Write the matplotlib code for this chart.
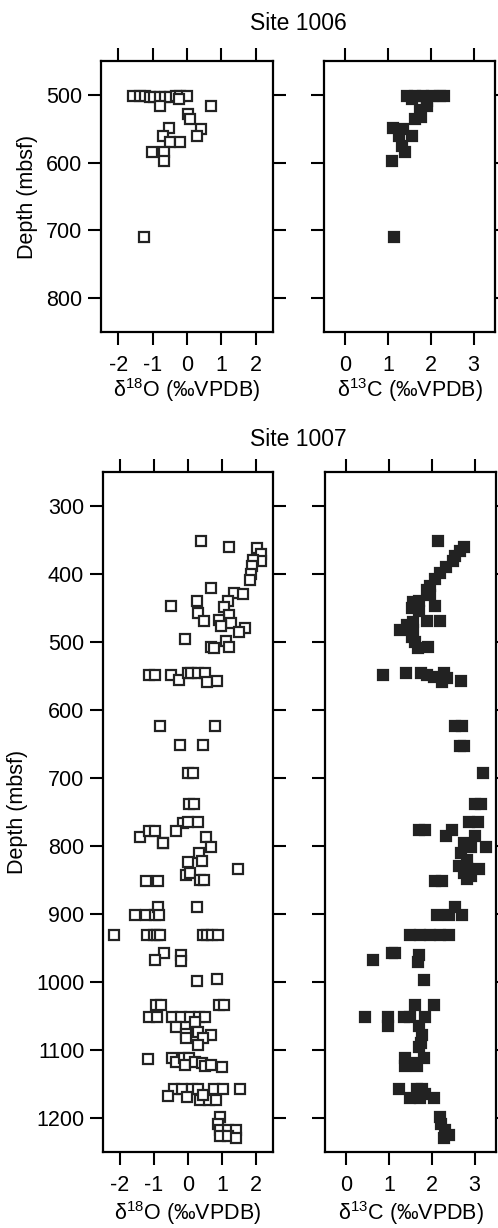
import numpy as np
import matplotlib
matplotlib.use("Agg")
import matplotlib.pyplot as plt

plt.rcParams['font.family'] = ['Liberation Sans', 'DejaVu Sans']
plt.rcParams['mathtext.fontset'] = 'custom'
plt.rcParams['mathtext.rm'] = 'Liberation Sans'
plt.rcParams['mathtext.it'] = 'Liberation Sans:italic'
plt.rcParams['axes.unicode_minus'] = False

# Site 1006
d18o_1006 = [-1.56, -1.36, -1.22, -1.07, -0.95, -0.79, -0.63, -0.48, -0.33, -0.19, 0.01,
             -0.79, -0.22, 0.70, 0.04, 0.10, -0.53, 0.40, -0.70, 0.28, -0.48, -0.21,
             -1.02, -0.68, -0.66, -1.24]
dep_o_1006 = [501, 502, 502, 503, 503, 503, 503, 503, 502, 502, 501,
              516, 506, 516, 528, 535, 549, 550, 561, 561, 569, 569,
              585, 585, 597, 710]
d13c_1006 = [1.45, 1.63, 1.82, 2.02, 2.22, 2.30, 1.55, 1.90, 1.90, 1.75, 1.76, 1.63,
             1.12, 1.35, 1.25, 1.55, 1.32, 1.39, 1.10, 1.14]
dep_c_1006 = [502, 502, 502, 502, 502, 502, 506, 509, 516, 522, 532, 535,
              549, 551, 561, 561, 576, 584, 597, 710]

# Site 1007
d18o_1007 = [0.39, 1.20, 2.03, 2.16, 2.16, 1.91, 1.88, 1.84, 1.83, 0.68, 1.34, 1.61,
             1.17, 0.25, -0.51, 1.05, 0.28, 1.22, 0.48, 0.92, 1.25, 0.97, 1.69, 1.50,
             -0.09, 1.12, 0.67, 0.77, 1.22,
             -1.14, -0.98, -0.50, -0.27, 0.01, 0.10, 0.28, 0.50, 0.57, 0.85,
             -0.81, 0.80, -0.25, 0.45, 0.00, 0.16, 0.03, 0.18, -0.14, 0.00, 0.28,
             -1.41, -1.16, -0.96, -0.73, -0.34, 0.54, 0.67, 0.33, 0.01, 0.40,
             -0.73, 1.47, -1.24, -0.88, -0.06, 0.06, 0.36, 0.46,
             -1.57, -1.24, -0.96, -0.89, -0.86, 0.25,
             -2.17, -1.21, -0.99, -0.91, -0.83, 0.43, 0.57, 0.72, 0.87,
             -0.71, -0.96, -0.22, -0.20, 0.26, 0.85,
             -0.93, -0.78, 0.92, 1.07, -1.16, -0.91, -0.47, -0.22, 0.06, 0.33, 0.50,
             0.21, -0.35, -0.06, 0.28, 0.67, 0.43, -0.06, 0.28,
             -1.18, -0.47, -0.35, -0.12, 0.03, -0.09, 0.20, 0.40, 0.50, 0.67, 0.99,
             -0.42, -0.17, 0.13, 0.28, 0.75, 1.02, 1.54, -0.58, -0.02, 0.36, 0.62, 0.82, 0.43,
             0.95, 0.87, 0.95, 1.17, 1.42, 0.95, 1.17, 1.42]
dep_o_1007 = [351, 361, 362, 371, 381, 379, 388, 400, 409, 420, 428, 429,
              440, 439, 447, 448, 458, 461, 469, 467, 472, 476, 479, 485,
              495, 498, 508, 509, 507,
              548, 548, 548, 556, 545, 545, 545, 546, 559, 557,
              624, 624, 652, 652, 692, 693, 738, 738, 766, 765, 764,
              787, 778, 778, 796, 778, 787, 801, 811, 823, 822,
              795, 834, 852, 852, 843, 839, 850, 850,
              902, 902, 902, 889, 902, 890,
              931, 931, 931, 931, 931, 931, 931, 931, 931,
              957, 967, 961, 969, 999, 996,
              1034, 1034, 1034, 1034, 1051, 1051, 1051, 1051, 1051, 1051, 1051,
              1059, 1066, 1076, 1074, 1078, 1083, 1083, 1093,
              1113, 1112, 1117, 1112, 1112, 1122, 1118, 1119, 1124, 1122, 1125,
              1158, 1158, 1158, 1158, 1158, 1158, 1158, 1167, 1169, 1174, 1174, 1174, 1166,
              1198, 1209, 1218, 1217, 1218, 1226, 1227, 1230]
d13c_1007 = [2.14, 2.75, 2.66, 2.55, 2.50, 2.32, 2.18, 2.07, 1.96, 1.89, 1.96,
             1.57, 1.70, 1.53, 2.07, 1.71, 1.89, 2.20, 1.57, 1.26, 1.41, 1.57, 1.53,
             1.60, 1.67, 1.92,
             0.86, 1.40, 1.74, 1.89, 2.04, 2.28, 2.36, 2.24, 2.67,
             2.55, 2.71, 2.66, 2.75, 3.20, 3.02, 3.14, 2.87, 3.09,
             1.71, 1.85, 2.46, 2.32, 3.02, 2.75, 3.26, 2.91, 2.67, 2.83, 2.63, 2.83,
             3.10, 2.75, 2.91, 2.83, 2.24, 2.08,
             2.55, 2.12, 2.40, 2.71,
             1.49, 1.73, 1.96, 2.20, 2.40,
             1.06, 1.14, 0.63, 1.71, 1.67, 1.82,
             1.61, 2.04, 0.43, 0.98, 1.34, 1.49, 1.85, 0.97, 1.69,
             1.77, 1.74, 1.69, 1.37, 1.81, 1.37, 1.65, 1.53,
             1.22, 1.65, 1.77, 1.49, 1.73, 2.04, 1.85,
             2.18, 2.21, 2.30, 2.40, 2.28]
dep_c_1007 = [351, 360, 366, 374, 381, 389, 399, 407, 417, 424, 431,
              441, 440, 450, 447, 455, 469, 469, 470, 482, 475, 482, 492,
              500, 509, 508,
              549, 546, 545, 549, 551, 546, 553, 559, 558,
              624, 624, 653, 653, 692, 738, 738, 765, 765,
              776, 776, 776, 786, 786, 795, 801, 802, 811, 820, 830, 832,
              834, 839, 844, 848, 852, 852,
              889, 902, 902, 902,
              931, 931, 931, 931, 931,
              957, 958, 968, 960, 970, 997,
              1034, 1034, 1052, 1052, 1052, 1052, 1052, 1065, 1065,
              1078, 1090, 1095, 1112, 1112, 1124, 1124, 1119,
              1158, 1158, 1158, 1171, 1171, 1171, 1165,
              1199, 1209, 1218, 1225, 1230]

o_ticks = [-2, -1, 0, 1, 2]
c_ticks = [0, 1, 2, 3]
xlab_o = 'δ$^{18}$O (‰VPDB)'
xlab_c = 'δ$^{13}$C (‰VPDB)'

fig = plt.figure(figsize=(4.98, 12.28), dpi=100)
W, H = 498.0, 1228.0


def panel(x0, y0, x1, y1):
    return fig.add_axes([x0 / W, 1 - y1 / H, (x1 - x0) / W, (y1 - y0) / H])


def style(ax, xlim, xticks, ylim, yticks, left_labels):
    ax.set_xlim(*xlim)
    ax.set_ylim(ylim[1], ylim[0])
    ax.set_xticks(xticks)
    ax.set_yticks(yticks)
    for s in ax.spines.values():
        s.set_linewidth(1.6)
    ax.tick_params(axis='both', direction='out', length=9.5, width=1.5,
                   labelsize=15.5, top=True, right=True, left=True, bottom=True)
    ax.tick_params(axis='x', pad=7, labeltop=False)
    ax.tick_params(axis='y', pad=4, labelleft=left_labels, labelright=False)


mk = dict(marker='s', markersize=7.4, linestyle='none', markeredgecolor='#222222',
          markeredgewidth=1.6)

# Site 1006
ax1 = panel(101, 61, 273, 332)
ax1.plot(d18o_1006, dep_o_1006, markerfacecolor='white', **mk)
style(ax1, (-2.5, 2.5), o_ticks, (450, 850), [500, 600, 700, 800], True)
ax1.set_xlabel(xlab_o, fontsize=15.5, labelpad=0)
ax1.set_ylabel('Depth (mbsf)', fontsize=15.5, labelpad=6)

ax2 = panel(324, 61, 495, 332)
ax2.plot(d13c_1006, dep_c_1006, markerfacecolor='#222222', **mk)
style(ax2, (-0.5, 3.5), c_ticks, (450, 850), [500, 600, 700, 800], False)
ax2.set_xlabel(xlab_c, fontsize=15.5, labelpad=0)

fig.text(298 / W, 1 - 23 / H, 'Site 1006', ha='center', va='center', fontsize=16.5)

# Site 1007
ax3 = panel(103, 472, 273, 1152)
ax3.plot(d18o_1007, dep_o_1007, markerfacecolor='white', **mk)
style(ax3, (-2.5, 2.5), o_ticks, (250, 1250), list(range(300, 1201, 100)), True)
ax3.set_xlabel(xlab_o, fontsize=15.5, labelpad=2)
ax3.set_ylabel('Depth (mbsf)', fontsize=15.5, labelpad=6)

ax4 = panel(325, 472, 496, 1152)
ax4.plot(d13c_1007, dep_c_1007, markerfacecolor='#222222', **mk)
style(ax4, (-0.5, 3.5), c_ticks, (250, 1250), list(range(300, 1201, 100)), False)
ax4.set_xlabel(xlab_c, fontsize=15.5, labelpad=2)

fig.text(298 / W, 1 - 440 / H, 'Site 1007', ha='center', va='center', fontsize=16.5)

fig.savefig('out.png', dpi=100)
